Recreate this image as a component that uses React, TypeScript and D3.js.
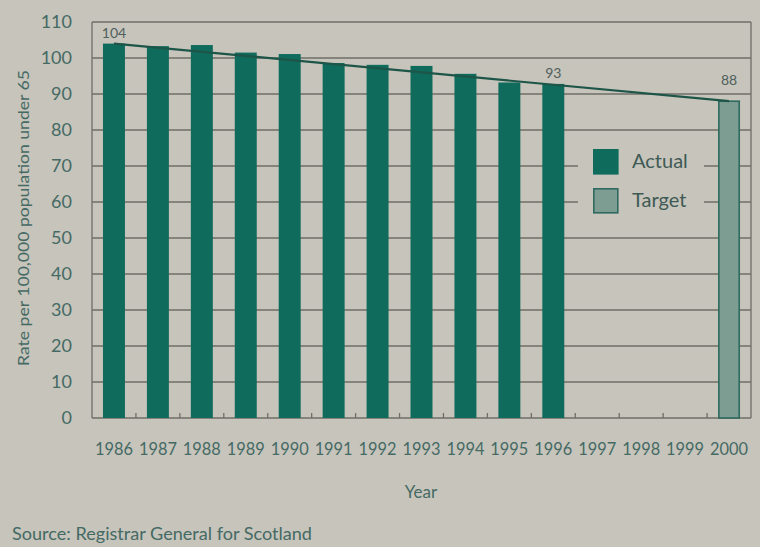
import React from 'react';
import * as d3 from 'd3';

const years = ['1986','1987','1988','1989','1990','1991','1992','1993','1994','1995','1996','1997','1998','1999','2000'];
const actualYears = ['1986','1987','1988','1989','1990','1991','1992','1993','1994','1995','1996'];
const actualValues = [104, 103.3, 103.6, 101.5, 101.1, 98.6, 98.1, 97.8, 95.6, 93.2, 92.8];
const targetYears = ['2000'];
const targetValues = [88];
const trendYears = ['1986', '2000'];
const trendValues = [104, 88];
const yTicks = [0, 10, 20, 30, 40, 50, 60, 70, 80, 90, 100, 110];
const valueLabels = [
  { year: '1986', value: 104, text: '104' },
  { year: '1996', value: 92.8, text: '93' },
  { year: '2000', value: 88, text: '88' },
];
const legendItems = ['Actual', 'Target'];

const W = 760, H = 547;
const BG = '#c6c4bb';
const BAR = '#0f6b5c';
const TARGET = '#7d9d93';
const TEXT = '#456a64';
const GRID = '#6f6f67';
const FONT = 'Lato, "Open Sans", sans-serif';

export default function App() {
  const x = d3.scaleBand<string>().domain(years).range([92, 751]).paddingInner(0.5).paddingOuter(0.25);
  const y = d3.scaleLinear().domain([0, 110]).range([418, 22]);
  const bw = x.bandwidth();
  const line = d3.line<number>()
    .x((_, i) => (x(trendYears[i]) as number) + bw / 2)
    .y((d) => y(d));

  return (
    <svg width={W} height={H} style={{ position: 'absolute', left: 0, top: 0, display: 'block' }} fontFamily={FONT}>
      <rect x={0} y={0} width={W} height={H} fill={BG} />
      {/* gridlines */}
      {yTicks.map((t) => (
        <line key={'g' + t} x1={92} x2={751} y1={y(t)} y2={y(t)} stroke={GRID} strokeWidth={1.3} />
      ))}
      {/* frame */}
      <line x1={92} x2={92} y1={y(110)} y2={y(0)} stroke={GRID} strokeWidth={1.3} />
      <line x1={751} x2={751} y1={y(110)} y2={y(0)} stroke={GRID} strokeWidth={1.3} />
      {/* bottom ticks */}
      {years.slice(1).map((yr) => {
        const xx = (x(yr) as number) - x.step() * 0.25;
        return <line key={'t' + yr} x1={xx} x2={xx} y1={y(0)} y2={y(0) - 5} stroke={GRID} strokeWidth={1.3} />;
      })}
      {/* legend background */}
      <rect x={578} y={140} width={126} height={82} fill={BG} />
      {/* bars */}
      {actualYears.map((yr, i) => (
        <rect key={yr} x={x(yr)} y={y(actualValues[i])} width={bw} height={y(0) - y(actualValues[i])} fill={BAR} />
      ))}
      {targetYears.map((yr, i) => (
        <rect key={yr} x={(x(yr) as number) + 0.8} y={y(targetValues[i])} width={bw - 1.6} height={y(0) - y(targetValues[i])}
          fill={TARGET} stroke="#2f6a5e" strokeWidth={1.6} />
      ))}
      {/* trend line */}
      <path d={line(trendValues) || ''} fill="none" stroke="#1d5548" strokeWidth={2.2} />
      {/* value labels */}
      {valueLabels.map((l) => (
        <text key={'v' + l.year} x={(x(l.year) as number) + bw / 2} y={y(l.value) - (l.year === '2000' ? 16 : 6)}
          textAnchor="middle" fontSize={14} fill="#4f5f5b">{l.text}</text>
      ))}
      {/* y tick labels */}
      {yTicks.map((t) => (
        <text key={'yl' + t} x={72} y={y(t)} dy="0.35em" textAnchor="end" fontSize={18} fill={TEXT}>{t}</text>
      ))}
      {/* x tick labels */}
      {years.map((yr) => (
        <text key={'xl' + yr} x={(x(yr) as number) + bw / 2} y={455} textAnchor="middle" fontSize={16.5} fill={TEXT}
          textLength={38} lengthAdjust="spacingAndGlyphs">{yr}</text>
      ))}
      {/* axis titles */}
      <text x={421} y={498} textAnchor="middle" fontSize={17} fill={TEXT}>Year</text>
      <text transform="translate(29,218) rotate(-90)" textAnchor="middle" fontSize={16} fill={TEXT}
        textLength={296} lengthAdjust="spacingAndGlyphs">Rate per 100,000 population under 65</text>
      {/* legend */}
      {legendItems.map((name, i) => (
        <g key={name} transform={`translate(593, ${149 + i * 39})`}>
          <rect x={0.8} y={0.8} width={24} height={24} fill={i === 0 ? BAR : TARGET} stroke={i === 0 ? BAR : '#2f6a5e'} strokeWidth={1.6} />
          <text x={39} y={19} fontSize={20} fill="#3f5a55">{name}</text>
        </g>
      ))}
      {/* source */}
      <text x={12} y={540} fontSize={16.5} fill={TEXT} textLength={300} lengthAdjust="spacingAndGlyphs">Source: Registrar General for Scotland</text>
    </svg>
  );
}
